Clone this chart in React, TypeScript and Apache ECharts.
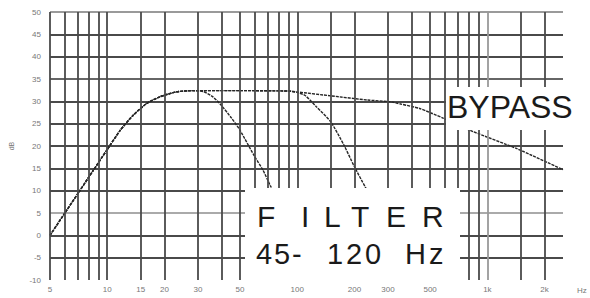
import { useEffect, useRef } from 'react';
import * as echarts from 'echarts';

// Shared low-frequency rise (Hz, dB)
const riseFreq = [5, 5.9, 7.1, 8.4, 10, 11.7, 13.7, 16.1, 18.9, 23, 28];
const riseDb = [0, 4.6, 9.7, 14.4, 19.2, 23.5, 26.9, 29.5, 31, 32.1, 32.4];

// Bypass curve continuation
const bypassFreq = [50, 90, 100, 152, 233, 310, 350, 440, 588, 844, 1430, 2500];
const bypassDb = [32.4, 32.3, 32.1, 31.2, 30.3, 29.9, 29.4, 28.4, 26.2, 23.2, 19.4, 14.7];

// 45 Hz filter roll-off
const filter45Freq = [32, 36, 40, 45, 50, 59, 66, 72, 80];
const filter45Db = [32.2, 31, 29, 26.3, 23.5, 18, 14.6, 11.2, 7.5];

// 120 Hz filter roll-off
const filter120Freq = [50, 90, 100, 110, 126, 150, 176, 198, 228, 260];
const filter120Db = [32.4, 32.3, 32.0, 31.3, 28.8, 25.4, 20.2, 15.7, 10.8, 7];

// Frequency grid lines and their tick labels
const gridFreqs = [5, 6, 7, 8, 9, 10, 15, 20, 30, 40, 50, 60, 70, 80, 90, 100, 150, 200, 300, 400, 500, 600, 700, 800, 900, 1000, 1500, 2000];
const freqLabels: Record<number, string> = {
  5: '5', 10: '10', 15: '15', 20: '20', 30: '30', 50: '50', 100: '100', 200: '200', 300: '300', 500: '500', 1000: '1k', 2000: '2k',
};

const yMin = -10;
const yMax = 50;
const yStep = 5;

const pairs = (f: number[], d: number[]) => f.map((v, i) => [v, d[i]]);

const curveStyle = { color: '#262626', width: 1.4, type: [3, 1] as any };

const FONT = '"Liberation Sans", Arial, sans-serif';
const GRID = '#4a4a4a';

function letters(chars: string[], xs: number[], y: number, size: number) {
  return chars.map((c, i) => ({
    type: 'text',
    z: 20,
    silent: true,
    style: {
      text: c,
      x: xs[i],
      y,
      fill: '#1a1a1a',
      font: `${size}px ${FONT}`,
      textAlign: 'left',
      textVerticalAlign: 'middle',
    },
  }));
}

const curve = (f: number[], d: number[]) => ({
  type: 'line',
  z: 3,
  showSymbol: false,
  smooth: 0.2,
  lineStyle: curveStyle,
  data: pairs(f, d),
});

export default function App() {
  const ref = useRef<HTMLDivElement>(null);
  useEffect(() => {
    const chart = echarts.init(ref.current!, null, { renderer: 'svg' });
    const splitColors = [
      'rgba(0,0,0,0)', GRID, GRID, '#aaa', GRID, GRID, GRID,
      GRID, GRID, '#666', GRID, GRID, '#9a9a9a',
    ];
    chart.setOption({
      animation: false,
      backgroundColor: '#fff',
      grid: { left: 49, right: 27, top: 12, bottom: 18 },
      xAxis: {
        type: 'log',
        logBase: 10,
        min: 5,
        max: 2500,
        axisLine: { show: false, onZero: false },
        axisTick: { show: false },
        axisLabel: { show: false },
        splitLine: { show: false },
        minorSplitLine: { show: false },
        name: 'Hz',
        nameLocation: 'end',
        nameGap: 14,
        nameTextStyle: { fontSize: 8, color: '#777', verticalAlign: 'top', padding: [6, 0, 0, 0], fontFamily: FONT },
      },
      yAxis: {
        type: 'value',
        min: yMin,
        max: yMax,
        interval: yStep,
        axisLine: { show: false },
        axisTick: { show: false },
        axisLabel: { fontSize: 8, color: '#777', margin: 9, fontFamily: FONT },
        splitLine: { show: true, lineStyle: { color: splitColors, width: 1.8 } },
        name: 'dB',
        nameLocation: 'middle',
        nameGap: 35,
        nameRotate: 90,
        nameTextStyle: { fontSize: 7, color: '#777', fontFamily: FONT },
      },
      series: [
        {
          type: 'line',
          data: [],
          z: 1,
          markLine: {
            silent: true,
            symbol: ['none', 'none'],
            animation: false,
            lineStyle: { color: GRID, width: 1.8, type: 'solid' },
            label: { show: false },
            data: gridFreqs.map((f) => ({
              xAxis: f,
              lineStyle: { color: f === 1000 ? '#999' : GRID, width: 1.8, type: 'solid' },
              label: freqLabels[f]
                ? { show: true, position: 'start', formatter: freqLabels[f], fontSize: 8, color: '#777', distance: 5, fontFamily: FONT }
                : { show: false },
            })),
          },
        },
        curve([...riseFreq, ...bypassFreq], [...riseDb, ...bypassDb]),
        curve([...riseFreq, ...filter45Freq], [...riseDb, ...filter45Db]),
        curve([...riseFreq, ...filter120Freq], [...riseDb, ...filter120Db]),
      ],
      graphic: [
        { type: 'rect', z: 10, silent: true, shape: { x: 245, y: 188, width: 215, height: 94 }, style: { fill: '#fff' } },
        { type: 'rect', z: 10, silent: true, shape: { x: 446, y: 87, width: 144, height: 43 }, style: { fill: '#fff' } },
        {
          type: 'text', z: 20, silent: true,
          style: { text: 'BYPASS', x: 447, y: 107, fill: '#1a1a1a', font: `32px ${FONT}`, textAlign: 'left', textVerticalAlign: 'middle' },
        },
        ...letters(['F', 'I', 'L', 'T', 'E', 'R'], [257, 301, 324, 351, 386, 422], 216, 30),
        ...letters(['4', '5', '-', '1', '2', '0', 'H', 'z'], [256, 274, 292, 327, 346, 365, 405, 429], 254, 29),
      ],
    });
    return () => chart.dispose();
  }, []);
  return <div ref={ref} style={{ position: 'fixed', left: 0, top: 0, width: 590, height: 298 }} />;
}
